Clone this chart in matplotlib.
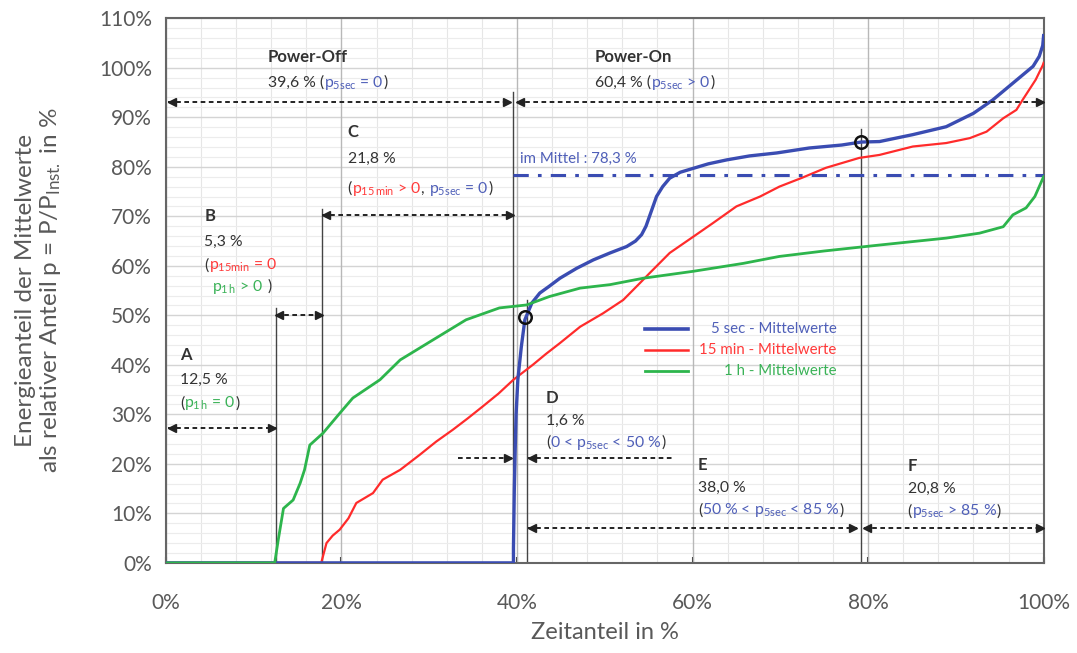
import matplotlib
matplotlib.use('Agg')
import matplotlib.pyplot as plt
from matplotlib.offsetbox import TextArea, HPacker, AnnotationBbox
from matplotlib.ticker import MultipleLocator, PercentFormatter

FONT = 'Lato'
plt.rcParams['font.family'] = [FONT, 'DejaVu Sans']
plt.rcParams['mathtext.fontset'] = 'custom'
plt.rcParams['mathtext.rm'] = FONT
plt.rcParams['mathtext.it'] = FONT + ':italic'
plt.rcParams['mathtext.bf'] = FONT + ':bold'

# --- data (x = Zeitanteil %, y = Energieanteil %) ---
sec5_x = [0, 39.6, 39.6, 39.7, 39.8, 39.9, 40.1, 40.5, 40.9, 41.7, 42.6, 43.7, 44.9, 46.8, 48.7,
          50.6, 52.5, 53.5, 54.2, 54.7, 55.1, 55.5, 55.9, 56.6, 57.4, 58.6, 60.1, 61.8, 63.9, 66.5,
          69.6, 73.3, 77.0, 79.2, 81.3, 85.1, 88.9, 92.0, 94.2, 96.5, 98.8, 99.5, 99.9, 100]
sec5_y = [0, 0, 3, 15, 23, 30, 37, 43.7, 49.1, 52.5, 54.5, 55.9, 57.5, 59.5, 61.2,
          62.6, 63.9, 65.0, 66.3, 68.0, 70.0, 72.0, 74.0, 76.0, 77.7, 78.9, 79.7, 80.6, 81.4, 82.2,
          82.8, 83.8, 84.4, 85.0, 85.1, 86.5, 88.1, 90.8, 93.5, 96.9, 100.3, 102.3, 104.5, 106.5]

min15_x = [0, 17.7, 18.3, 19.0, 19.8, 20.8, 21.7, 23.6, 24.7, 26.7, 28.9, 30.8, 32.7, 34.4, 36.1,
           37.9, 39.6, 41.8, 43.3, 44.9, 47.2, 49.8, 52.1, 54.0, 55.1, 57.4, 60.1, 62.3, 65.0, 67.7,
           69.9, 72.5, 75.2, 79.0, 81.3, 85.1, 88.9, 91.6, 93.5, 95.4, 96.9, 97.6, 99.1, 99.9, 100]
min15_y = [0, 0, 4, 5.5, 6.7, 9.0, 12.1, 14.1, 16.8, 18.8, 21.8, 24.5, 26.9, 29.2, 31.6,
           34.2, 37, 40, 42.2, 44.4, 47.7, 50.4, 53.1, 56.5, 58.5, 62.6, 65.9, 68.6, 72.0, 74.0,
           76.0, 77.8, 79.8, 81.8, 82.4, 84.1, 84.8, 85.8, 87.1, 89.8, 91.5, 93.5, 97.6, 100.5, 101]

h1_x = [0, 12.4, 12.8, 13.4, 14.5, 15.3, 15.8, 16.4, 17.9, 19.8, 21.3, 24.4, 26.7, 30.4, 34.2,
        38.0, 41.1, 43.7, 47.2, 50.6, 54.4, 60.1, 65.8, 69.9, 75.0, 81.3, 88.9, 92.7, 95.4, 96.5,
        98.0, 99.0, 100]
h1_y = [0, 0, 4.6, 11.0, 12.7, 16.1, 18.8, 23.8, 26.2, 30.2, 33.3, 37.0, 41.0, 45.0, 49.1,
        51.5, 52.1, 53.8, 55.5, 56.2, 57.5, 58.9, 60.5, 61.9, 63.0, 64.2, 65.6, 66.6, 67.9, 70.3,
        71.7, 74.0, 78.0]

mittel = 78.3
# section boundaries A..F (x in %)
x_a, x_b, x_c, x_d, x_e = 12.5, 17.8, 39.6, 41.1, 79.2
circle_x = [40.9, 79.2]
circle_y = [49.6, 85.0]

series_names = ['5 sec - Mittelwerte', '15 min - Mittelwerte', '1 h - Mittelwerte']

# colours
C_BLUE, C_RED, C_GREEN = '#3a4cb2', '#ff2b2b', '#2db54c'
T_BLUE, T_RED, T_GREEN = '#4f5fb8', '#ff3a3a', '#3ab257'
T_DARK = '#333333'
GRAY = '#595959'

fig = plt.figure(figsize=(10.77, 6.53), dpi=100)
ax = fig.add_axes([0.154, 0.138, 0.815, 0.834])

ax.set_xlim(0, 100)
ax.set_ylim(0, 110)
ax.xaxis.set_major_locator(MultipleLocator(20))
ax.xaxis.set_minor_locator(MultipleLocator(4))
ax.yaxis.set_major_locator(MultipleLocator(10))
ax.yaxis.set_minor_locator(MultipleLocator(2))
ax.xaxis.set_major_formatter(PercentFormatter(decimals=0))
ax.yaxis.set_major_formatter(PercentFormatter(decimals=0))
ax.grid(True, which='major', axis='y', color='#d4d4d4', lw=1.0)
ax.grid(True, which='minor', axis='y', color='#ececec', lw=0.8)
ax.grid(True, which='minor', axis='x', color='#e6e6e6', lw=0.8)
ax.set_axisbelow(True)
# darker vertical lines every 20 %, drawn over the light grid
for xg in ax.get_xticks()[1:-1]:
    ax.axvline(xg, color='#b8b8b8', lw=1.0, zorder=1)
ax.tick_params(which='minor', length=0)
ax.tick_params(which='major', axis='y', length=0, pad=10)
ax.tick_params(which='major', axis='x', direction='in', length=4, width=1.5, color='#333333', pad=22)
for lab in ax.get_xticklabels() + ax.get_yticklabels():
    lab.set_fontsize(15)
    lab.set_color(GRAY)
for s in ax.spines.values():
    s.set_color('#666666')
    s.set_linewidth(1.5)

ax.set_xlabel('Zeitanteil in %', fontsize=17, color=GRAY, labelpad=6)
ax.set_ylabel('Energieanteil der Mittelwerte\nals relativer Anteil p = P/P$_{\\mathrm{Inst.}}$ in %',
              fontsize=17.5, color=GRAY, labelpad=26, linespacing=1.1)

# curves
ax.plot(min15_x, min15_y, color=C_RED, lw=1.6, zorder=3)
ax.plot(sec5_x, sec5_y, color=C_BLUE, lw=2.4, zorder=4)
ax.plot(h1_x, h1_y, color=C_GREEN, lw=2.0, zorder=5)
ax.plot([x_c, 100], [mittel, mittel], color=C_BLUE, lw=2.2, ls=(0, (5, 3, 1.2, 3)), zorder=4)
ax.plot(circle_x, circle_y, ls='none', marker='o', ms=9, mfc='none', mec='#111111', mew=1.8, zorder=7)

# vertical boundary lines
for xv, top in [(x_a, 51.5), (x_b, 71.5), (x_c, 95.2), (x_d, 53.0), (x_e, 87.7)]:
    ax.plot([xv, xv], [0, top], color='#444444', lw=1.0, zorder=2)


def darrow(x0, x1, y, left=True, right=True):
    ax.plot([x0, x1], [y, y], color='#222222', lw=1.4, ls=(0, (2.4, 1.8)), clip_on=False, zorder=6)
    if left:
        ax.plot(x0 + 0.4, y, marker='<', ms=5.5, color='#222222', clip_on=False, zorder=6)
    if right:
        ax.plot(x1 - 0.4, y, marker='>', ms=5.5, color='#222222', clip_on=False, zorder=6)


darrow(0.3, x_c - 0.3, 93.0)
darrow(x_c + 0.4, 100, 93.0)
darrow(x_b, x_c, 70.2)
darrow(x_a, x_b, 50.0)
darrow(0.3, x_a, 27.3)
darrow(33.3, x_c - 0.2, 21.2, left=False)
darrow(x_d + 0.2, 58.0, 21.2, right=False)
darrow(x_d + 0.2, x_e - 0.5, 7.1)
darrow(x_e + 0.3, 100, 7.1)


def rich(x, y, parts, size=11.3, weight='normal'):
    boxes = [TextArea(t, textprops=dict(color=c, size=size, weight=weight)) for t, c in parts]
    pack = HPacker(children=boxes, align='baseline', pad=0, sep=0)
    ab = AnnotationBbox(pack, (x, y), xycoords='data', box_alignment=(0, 0.5),
                        frameon=False, pad=0, zorder=8)
    ax.add_artist(ab)


P5 = r'p$_{\mathrm{5sec}}$'
P15 = r'p$_{\mathrm{15\,min}}$'
P15b = r'p$_{\mathrm{15min}}$'
P1 = r'p$_{\mathrm{1\,h}}$'

rich(11.6, 102.2, [('Power-Off', T_DARK)], size=12, weight='bold')
rich(11.6, 97.0, [('39,6 % (', T_DARK), (P5 + ' = 0', T_BLUE), (')', T_DARK)])
rich(48.9, 102.2, [('Power-On', T_DARK)], size=12, weight='bold')
rich(48.9, 97.0, [('60,4 % (', T_DARK), (P5 + ' > 0', T_BLUE), (')', T_DARK)])
rich(40.3, 81.6, [('im Mittel : 78,3 %', T_BLUE)], size=10.8)

rich(20.7, 87.0, [('C', T_DARK)], size=12, weight='bold')
rich(20.7, 81.6, [('21,8 %', T_DARK)])
rich(20.7, 75.5, [('(', T_DARK), (P15 + ' > 0', T_RED), (', ', T_DARK), (P5 + ' = 0', T_BLUE), (')', T_DARK)])

rich(4.4, 70.0, [('B', T_DARK)], size=12, weight='bold')
rich(4.4, 64.8, [('5,3 %', T_DARK)])
rich(4.4, 60.1, [('(', T_DARK), (P15b + ' = 0', T_RED)])
rich(5.3, 55.7, [(P1 + ' > 0', T_GREEN), (' )', T_DARK)])

rich(1.6, 41.9, [('A', T_DARK)], size=12, weight='bold')
rich(1.6, 37.0, [('12,5 %', T_DARK)])
rich(1.6, 32.2, [('(', T_DARK), (P1 + ' = 0', T_GREEN), (')', T_DARK)])

rich(43.3, 33.3, [('D', T_DARK)], size=12, weight='bold')
rich(43.3, 28.7, [('1,6 %', T_DARK)])
rich(43.3, 24.3, [('(', T_DARK), ('0 < ' + P5 + ' < 50 %', T_BLUE), (')', T_DARK)])

rich(60.6, 19.8, [('E', T_DARK)], size=12, weight='bold')
rich(60.6, 15.2, [('38,0 %', T_DARK)])
rich(60.6, 10.6, [('(', T_DARK), ('50 % < ' + P5 + ' < 85 %', T_BLUE), (')', T_DARK)])

rich(84.5, 19.5, [('F', T_DARK)], size=12, weight='bold')
rich(84.5, 14.9, [('20,8 %', T_DARK)])
rich(84.5, 10.4, [('(', T_DARK), (P5 + ' > 85 %', T_BLUE), (')', T_DARK)])

# legend drawn by hand (labels right aligned)
for (name, lc, tc, lw), yl in zip(zip(series_names, [C_BLUE, C_RED, C_GREEN], [T_BLUE, T_RED, T_GREEN],
                                      [2.6, 1.8, 2.0]), [47.2, 43.0, 38.7]):
    ax.plot([54.6, 59.5], [yl, yl], color=lc, lw=lw, zorder=6)
    ax.text(76.4, yl, name, color=tc, fontsize=10.8, ha='right', va='center', zorder=8)

fig.savefig('out.png', dpi=100)
